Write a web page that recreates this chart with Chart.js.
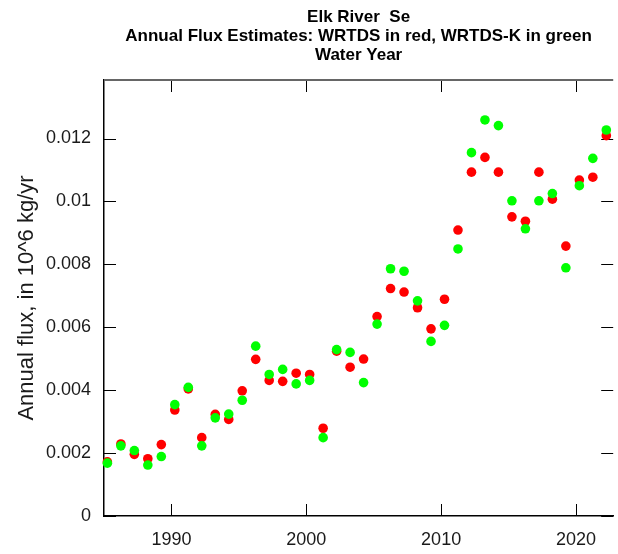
<!DOCTYPE html>
<html>
<head>
<meta charset="utf-8">
<script src="https://cdn.jsdelivr.net/npm/chart.js@4/dist/chart.umd.min.js"></script>
<style>
  html, body { margin: 0; padding: 0; background: #fff; }
  #wrap { width: 618px; height: 554px; }
</style>
</head>
<body>
<div id="wrap"><canvas id="chart"></canvas></div>
<script>
"use strict";

let TITLE_LINES = [
    "Elk River  Se",
    "Annual Flux Estimates: WRTDS in red, WRTDS-K in green",
    "Water Year"
];
let Y_TITLE = "Annual flux, in 10^6 kg/yr";

// water years, plotted at mid water year
let WATER_YEARS = [
    1985, 1986, 1987, 1988, 1989, 1990, 1991, 1992, 1993, 1994,
    1995, 1996, 1997, 1998, 1999, 2000, 2001, 2002, 2003, 2004,
    2005, 2006, 2007, 2008, 2009, 2010, 2011, 2012, 2013, 2014,
    2015, 2016, 2017, 2018, 2019, 2020, 2021, 2022
];
let MID_YEAR = 0.25;

let WRTDS = [
    0.00172, 0.00229, 0.00196, 0.00182, 0.00227, 0.00337, 0.00404, 0.00249, 0.00323, 0.00307,
    0.00398, 0.00498, 0.00431, 0.00428, 0.00454, 0.00450, 0.00279, 0.00524, 0.00473, 0.00499,
    0.00634, 0.00723, 0.00712, 0.00662, 0.00595, 0.00689, 0.00909, 0.01093, 0.01140, 0.01093,
    0.00951, 0.00937, 0.01093, 0.01007, 0.00858, 0.01068, 0.01077, 0.01209
];

let WRTDS_K = [
    0.00168, 0.00223, 0.00208, 0.00162, 0.00189, 0.00354, 0.00409, 0.00223, 0.00312, 0.00324,
    0.00368, 0.00540, 0.00450, 0.00466, 0.00420, 0.00431, 0.00249, 0.00529, 0.00520, 0.00424,
    0.00610, 0.00786, 0.00778, 0.00684, 0.00555, 0.00606, 0.00849, 0.01155, 0.01259, 0.01241,
    0.01002, 0.00913, 0.01002, 0.01025, 0.00789, 0.01050, 0.01137, 0.01227
];

let X_TICKS = [1990, 2000, 2010, 2020];
let Y_TICKS = [0, 0.002, 0.004, 0.006, 0.008, 0.01, 0.012];
let Y_LABELS = ["0", "0.002", "0.004", "0.006", "0.008", "0.01", "0.012"];

let FONT = "'Liberation Sans', Arial, sans-serif";

function toPoints(values) {
    return WATER_YEARS.map(function(yr, i) {
        return { x: yr + MID_YEAR, y: values[i] };
    });
}

// R-style frame: inward ticks on every side, top line, title over plot
let frame = {
    id: "frame",
    beforeDatasetsDraw: function(chart) {
        let ctx = chart.ctx;
        let a = chart.chartArea;
        let xs = chart.scales.x;
        let ys = chart.scales.y;
        ctx.save();
        ctx.strokeStyle = "#000";
        ctx.lineWidth = 1;
        ctx.beginPath();
        X_TICKS.forEach(function(v) {
            let px = Math.round(xs.getPixelForValue(v)) + 0.5;
            ctx.moveTo(px, a.bottom);
            ctx.lineTo(px, a.bottom - 12);
            ctx.moveTo(px, a.top);
            ctx.lineTo(px, a.top + 12);
        });
        Y_TICKS.forEach(function(v) {
            let py = Math.round(ys.getPixelForValue(v)) + 0.5;
            ctx.moveTo(a.left, py);
            ctx.lineTo(a.left + 12, py);
            ctx.moveTo(a.right, py);
            ctx.lineTo(a.right - 12, py);
        });
        ctx.stroke();
        ctx.strokeStyle = "#666";
        ctx.lineWidth = 2;
        ctx.beginPath();
        ctx.moveTo(a.left, a.top);
        ctx.lineTo(a.right, a.top);
        ctx.stroke();

        ctx.fillStyle = "#000";
        ctx.font = "bold 17px " + FONT;
        ctx.textAlign = "center";
        ctx.textBaseline = "middle";
        let cx = (a.left + a.right) / 2;
        TITLE_LINES.forEach(function(line, i) {
            ctx.fillText(line, cx, 17 + i * 19);
        });
        ctx.restore();
    }
};

let chart = new Chart(document.getElementById("chart"), {
    type: "scatter",
    data: {
        datasets: [{
            label: "WRTDS",
            data: toPoints(WRTDS),
            backgroundColor: "#ff0000",
            borderWidth: 0,
            pointRadius: 4.8,
            order: 2,
            clip: false
        }, {
            label: "WRTDS-K",
            data: toPoints(WRTDS_K),
            backgroundColor: "#00ff00",
            borderWidth: 0,
            pointRadius: 4.8,
            order: 1,
            clip: false
        }]
    },
    plugins: [frame],
    options: {
        responsive: true,
        maintainAspectRatio: false,
        animation: false,
        events: [],
        layout: {
            padding: { top: 80, right: 0, bottom: 0, left: 0 }
        },
        plugins: {
            legend: { display: false },
            tooltip: { enabled: false }
        },
        scales: {
            x: {
                type: "linear",
                min: 1985,
                max: 2022.76,
                afterBuildTicks: function(scale) {
                    scale.ticks = X_TICKS.map(function(v) { return { value: v }; });
                },
                afterFit: function(scale) { scale.height = 38; },
                grid: { display: false, drawTicks: false },
                border: { display: true, color: "#000", width: 1.5 },
                ticks: {
                    padding: 13,
                    color: "#1a1a1a",
                    maxRotation: 0,
                    font: { family: FONT, size: 18 },
                    callback: function(v) { return String(v); }
                }
            },
            y: {
                type: "linear",
                min: 0,
                max: 0.01386,
                afterBuildTicks: function(scale) {
                    scale.ticks = Y_TICKS.map(function(v) { return { value: v }; });
                },
                afterFit: function(scale) { scale.width = 104; },
                grid: { display: false, drawTicks: false },
                border: { display: true, color: "#000", width: 1.5 },
                title: {
                    display: true,
                    text: Y_TITLE,
                    color: "#1a1a1a",
                    font: { family: FONT, size: 22 },
                    padding: { top: 14, bottom: 0 }
                },
                ticks: {
                    padding: 13,
                    color: "#1a1a1a",
                    font: { family: FONT, size: 18 },
                    callback: function(v) {
                        let i = Y_TICKS.indexOf(v);
                        return i >= 0 ? Y_LABELS[i] : "";
                    }
                }
            }
        }
    }
});
</script>
</body>
</html>
